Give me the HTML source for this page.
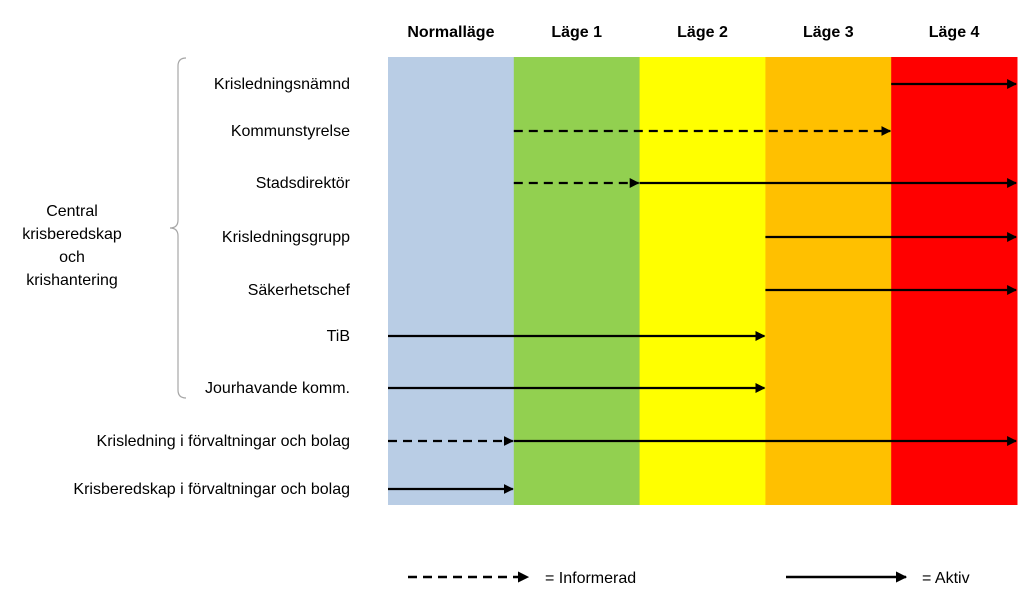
<!DOCTYPE html>
<html><head><meta charset="utf-8"><style>
body{margin:0;background:#fff;width:1024px;height:588px;overflow:hidden}
svg{font-family:"Liberation Sans",Arial,sans-serif}
</style></head><body>
<svg id="c" width="1024" height="588">
<defs>
<marker id="ah" viewBox="0 0 10 10" refX="9" refY="5" markerWidth="4.5" markerHeight="4.5" orient="auto"><path d="M0,0L10,5L0,10z" fill="#000"/></marker>
</defs>
<g id="cols"></g><g id="heads"></g><g id="rows"></g>
<path d="M186,58 Q178,58 178,66 L178,220 Q178,228 170,228 Q178,228 178,236 L178,390 Q178,398 186,398" fill="none" stroke="#a6a6a6" stroke-width="1.2"/>
<text x="72" y="216" font-size="16" text-anchor="middle"><tspan x="72" dy="0">Central</tspan><tspan x="72" dy="23">krisberedskap</tspan><tspan x="72" dy="23">och</tspan><tspan x="72" dy="23">krishantering</tspan></text>
<g>
<line x1="408" y1="577" x2="528" y2="577" stroke="#000" stroke-width="2.5" stroke-dasharray="9,6" marker-end="url(#ah)"/>
<text x="545" y="583" font-size="16">= Informerad</text></g>
<g>
<line x1="786" y1="577" x2="906" y2="577" stroke="#000" stroke-width="2.5" marker-end="url(#ah)"/>
<text x="922" y="583" font-size="16">= Aktiv</text></g>
</svg>
<script>
const phases=["Normalläge","Läge 1","Läge 2","Läge 3","Läge 4"];
const phaseColors=["#b9cde5","#92d050","#ffff00","#ffc000","#ff0000"];
const roles=["Krisledningsnämnd","Kommunstyrelse","Stadsdirektör","Krisledningsgrupp","Säkerhetschef","TiB","Jourhavande komm.","Krisledning i förvaltningar och bolag","Krisberedskap i förvaltningar och bolag"];
const dashedStart=[null,1,1,null,null,null,null,0,null];
const dashedEnd=[null,4,2,null,null,null,null,1,null];
const solidStart=[4,null,2,3,3,0,0,1,0];
const solidEnd=[5,null,5,5,5,3,3,5,1];
const rowY=[84,131,183,237,290,336,388,441,489];
const X0=388,CW=125.8,TOP=57,BOT=505;
const x=v=>X0+v*CW;
const NS="http://www.w3.org/2000/svg";
const cols=document.getElementById('cols'),heads=document.getElementById('heads'),rows=document.getElementById('rows');
phases.forEach((p,i)=>{
 const r=document.createElementNS(NS,'rect');
 r.setAttribute('x',x(i));r.setAttribute('y',TOP);r.setAttribute('width',CW+0.5);r.setAttribute('height',BOT-TOP);r.setAttribute('fill',phaseColors[i]);
 
 
 cols.appendChild(r);
 const t=document.createElementNS(NS,'text');
 t.setAttribute('x',x(i)+CW/2);t.setAttribute('y',37);t.setAttribute('text-anchor','middle');t.setAttribute('font-size','16');t.setAttribute('font-weight','bold');
 t.textContent=p;
 
 
 heads.appendChild(t);
});
function seg(a,b,y,dashed){
 const l=document.createElementNS(NS,'line');
 l.setAttribute('x1',x(a));l.setAttribute('x2',x(b)-1);l.setAttribute('y1',y);l.setAttribute('y2',y);
 l.setAttribute('stroke','#000');l.setAttribute('stroke-width','2.2');
 if(dashed)l.setAttribute('stroke-dasharray','9,6');
 l.setAttribute('marker-end','url(#ah)');
 
 
 rows.appendChild(l);
}
roles.forEach((r,i)=>{
 const y=rowY[i];
 const t=document.createElementNS(NS,'text');
 t.setAttribute('x',350);t.setAttribute('y',y+5);t.setAttribute('text-anchor','end');t.setAttribute('font-size','16');
 t.textContent=r;
 
 
 rows.appendChild(t);
 if(dashedStart[i]!==null)seg(dashedStart[i],dashedEnd[i],y,true);
 if(solidStart[i]!==null)seg(solidStart[i],solidEnd[i],y,false);
});
</script>
</body></html>
